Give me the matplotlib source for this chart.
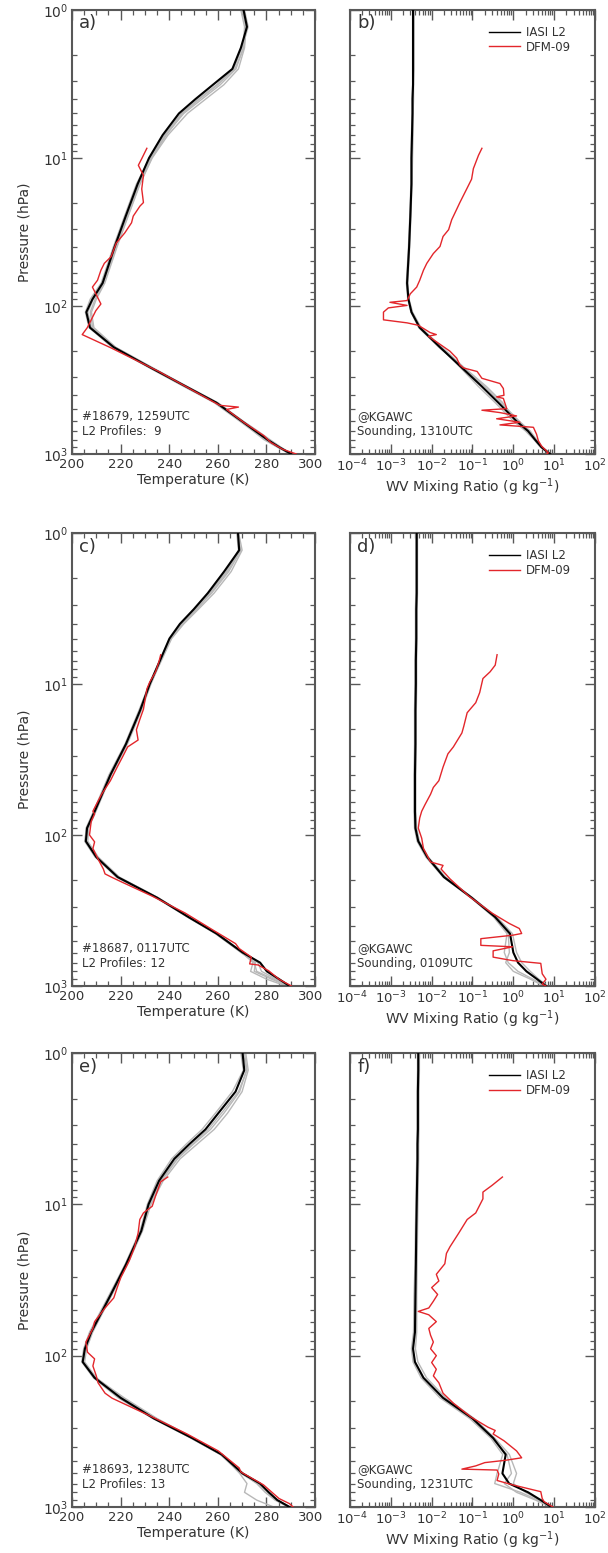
import numpy as np
import matplotlib
matplotlib.use("Agg")
import matplotlib.pyplot as plt
import matplotlib.transforms as mtransforms
from matplotlib.ticker import MultipleLocator, LogLocator, NullFormatter

plt.rcParams['font.family'] = ['DejaVu Sans']

# pressure grid of the IASI L2 retrievals (hPa)
p_l2 = [1, 1.3, 1.8, 2.5, 3.2, 4, 5, 7, 10, 15, 25, 40, 70, 90, 110, 140,
        190, 260, 350, 450, 600, 700, 800, 900, 1000]

# ---- temperature (K) ----
t_mean_a = [270.6, 272.0, 269.5, 266.0, 258.0, 250.8, 244.0, 237.3, 231.7, 227.0, 222.0, 217.5, 212.6,
            208.4, 205.9, 207.4, 217.2, 232.2, 246.9, 259.4, 269.9, 275.5, 280.4, 285.3, 290.2]
t_gray_a = [
    [269.5, 271.0, 270.5, 267.5, 261.0, 253.5, 246.0, 238.5, 232.5, 227.5, 222.5, 218.0, 213.0,
     209.5, 207.5, 208.5, 217.5, 232.0, 246.5, 259.0, 269.5, 275.0, 280.0, 285.0, 289.5],
    [270.0, 271.5, 271.0, 268.5, 262.5, 255.0, 247.5, 239.5, 233.0, 228.0, 223.0, 218.5, 213.5,
     210.0, 208.0, 209.0, 218.0, 233.0, 247.5, 260.0, 270.5, 276.5, 281.5, 286.0, 290.5],
    [271.0, 272.5, 270.0, 266.5, 259.5, 252.0, 245.0, 238.0, 232.0, 226.5, 221.5, 217.0, 212.0,
     207.5, 205.5, 207.0, 216.5, 231.5, 246.0, 258.5, 269.0, 274.5, 279.0, 284.5, 289.8],
    [270.2, 271.8, 270.8, 267.0, 260.0, 252.5, 245.5, 238.8, 232.8, 227.8, 222.8, 218.2, 212.8,
     208.8, 206.5, 208.0, 217.8, 232.6, 247.2, 259.8, 270.2, 276.0, 281.0, 285.8, 290.0],
]
t_mean_c = [268.3, 268.8, 262.6, 255.9, 250.1, 244.4, 240.1, 236.2, 232.0, 228.0, 222.2, 215.8, 209.3,
            206.2, 205.7, 210.0, 218.8, 235.0, 248.0, 259.5, 270.2, 277.4, 280.2, 285.2, 289.5]
t_gray_c = [
    [268.0, 269.5, 264.5, 257.5, 251.0, 245.0, 240.5, 236.5, 232.5, 228.5, 222.8, 216.2, 209.8,
     206.8, 206.5, 210.8, 219.5, 235.5, 248.5, 260.0, 270.0, 274.5, 273.5, 280.0, 288.0],
    [268.6, 270.0, 265.5, 258.5, 252.0, 246.0, 241.0, 236.8, 232.3, 227.8, 222.0, 215.5, 209.0,
     206.0, 205.2, 209.5, 218.5, 234.5, 247.5, 259.0, 269.5, 275.5, 275.0, 282.0, 289.0],
    [267.8, 268.5, 263.5, 256.5, 250.5, 244.8, 240.3, 236.0, 231.8, 227.5, 221.8, 215.2, 208.8,
     205.8, 205.5, 209.8, 218.2, 234.8, 248.2, 259.8, 270.5, 276.5, 278.0, 284.0, 289.2],
    [268.4, 269.0, 264.0, 257.0, 251.5, 245.5, 240.8, 236.4, 232.2, 228.2, 222.4, 216.0, 209.5,
     206.5, 206.0, 210.2, 219.0, 235.2, 248.0, 259.2, 269.8, 275.0, 276.0, 283.0, 288.5],
]
t_mean_e = [270.2, 270.9, 267.3, 260.2, 254.9, 248.3, 242.1, 235.8, 231.5, 228.5, 222.2, 215.8, 207.9,
            205.3, 204.4, 209.3, 220.0, 233.7, 249.4, 261.6, 270.2, 277.4, 281.0, 284.5, 289.5]
t_gray_e = [
    [271.5, 272.5, 270.0, 264.0, 258.5, 251.5, 244.5, 237.5, 232.5, 229.0, 222.8, 216.3, 208.5,
     206.0, 205.2, 210.0, 220.5, 234.0, 249.0, 261.0, 269.5, 276.5, 280.5, 284.0, 289.0],
    [270.5, 271.8, 269.0, 262.5, 257.0, 250.0, 243.5, 236.8, 232.0, 228.2, 222.0, 215.5, 207.5,
     205.0, 204.5, 209.8, 221.5, 235.0, 250.0, 261.5, 269.0, 272.0, 271.0, 276.0, 283.0],
    [269.5, 270.5, 266.0, 259.0, 253.5, 247.0, 241.0, 235.0, 231.0, 228.0, 221.8, 215.2, 207.2,
     204.8, 204.0, 208.8, 219.0, 233.2, 248.8, 261.2, 270.5, 277.0, 280.8, 284.5, 289.8],
    [271.0, 272.0, 268.5, 261.5, 256.0, 249.5, 243.0, 236.5, 231.8, 228.8, 222.5, 216.0, 208.0,
     205.5, 204.8, 209.5, 220.8, 234.5, 249.8, 261.8, 270.0, 276.0, 279.5, 283.5, 289.0],
]

# ---- water vapour mixing ratio (g/kg) ----
q_mean_b = [0.0035, 0.0035, 0.0035, 0.0035, 0.0035, 0.0034, 0.0034, 0.0033, 0.0032, 0.0032, 0.0030, 0.0028,
            0.0025, 0.0027, 0.0032, 0.0051, 0.016, 0.054, 0.17, 0.43, 1.2, 2.3, 3.4, 4.9, 7.9]
q_gray_b = [
    [0.0037, 0.0037, 0.0037, 0.0037, 0.0036, 0.0036, 0.0035, 0.0035, 0.0034, 0.0033, 0.0031, 0.0029,
     0.0026, 0.0028, 0.0034, 0.0055, 0.017, 0.050, 0.14, 0.36, 1.0, 2.0, 3.2, 4.6, 7.6],
    [0.0034, 0.0034, 0.0034, 0.0034, 0.0034, 0.0033, 0.0033, 0.0032, 0.0031, 0.0031, 0.0029, 0.0027,
     0.0024, 0.0026, 0.0031, 0.0048, 0.015, 0.058, 0.20, 0.50, 1.4, 2.6, 3.7, 5.2, 8.2],
    [0.0036, 0.0036, 0.0036, 0.0036, 0.0035, 0.0035, 0.0034, 0.0034, 0.0033, 0.0032, 0.0030, 0.0028,
     0.0025, 0.0027, 0.0033, 0.0053, 0.018, 0.062, 0.22, 0.55, 1.1, 2.2, 3.6, 5.0, 8.0],
]
q_mean_d = [0.0043, 0.0043, 0.0043, 0.0043, 0.0042, 0.0042, 0.0042, 0.0041, 0.0041, 0.0040, 0.0040, 0.0039,
            0.0039, 0.0040, 0.0047, 0.0078, 0.020, 0.095, 0.36, 0.83, 1.0, 1.3, 2.1, 3.8, 6.3]
q_gray_d = [
    [0.0041, 0.0041, 0.0041, 0.0041, 0.0040, 0.0040, 0.0040, 0.0039, 0.0039, 0.0038, 0.0038, 0.0037,
     0.0037, 0.0038, 0.0044, 0.0072, 0.019, 0.090, 0.33, 0.70, 0.60, 0.75, 1.3, 3.0, 6.0],
    [0.0045, 0.0045, 0.0045, 0.0045, 0.0044, 0.0044, 0.0044, 0.0043, 0.0043, 0.0042, 0.0042, 0.0041,
     0.0041, 0.0043, 0.0050, 0.0083, 0.022, 0.10, 0.40, 0.95, 1.2, 1.6, 2.6, 4.2, 6.8],
    [0.0042, 0.0042, 0.0042, 0.0042, 0.0041, 0.0041, 0.0041, 0.0040, 0.0040, 0.0039, 0.0039, 0.0038,
     0.0038, 0.0040, 0.0046, 0.0075, 0.021, 0.098, 0.35, 0.75, 0.80, 0.65, 1.0, 2.6, 5.5],
]
q_mean_f = [0.0047, 0.0047, 0.0046, 0.0046, 0.0046, 0.0045, 0.0045, 0.0044, 0.0043, 0.0042, 0.0041, 0.0040,
            0.0039, 0.0035, 0.0039, 0.0063, 0.019, 0.10, 0.32, 0.65, 0.54, 0.79, 2.3, 4.7, 8.5]
q_gray_f = [
    [0.0050, 0.0050, 0.0049, 0.0049, 0.0049, 0.0048, 0.0048, 0.0047, 0.0046, 0.0045, 0.0044, 0.0043,
     0.0043, 0.0040, 0.0046, 0.0075, 0.022, 0.11, 0.35, 0.80, 1.2, 1.0, 2.0, 4.5, 8.0],
    [0.0045, 0.0045, 0.0044, 0.0044, 0.0044, 0.0043, 0.0043, 0.0042, 0.0041, 0.0040, 0.0039, 0.0037,
     0.0036, 0.0032, 0.0035, 0.0055, 0.016, 0.085, 0.28, 0.55, 0.40, 0.35, 1.5, 4.0, 8.8],
    [0.0048, 0.0048, 0.0047, 0.0047, 0.0047, 0.0046, 0.0046, 0.0045, 0.0044, 0.0043, 0.0041, 0.0039,
     0.0038, 0.0034, 0.0037, 0.0060, 0.018, 0.095, 0.30, 0.70, 0.90, 0.60, 1.2, 3.5, 8.0],
]

# ---- DFM-09 radiosonde soundings ----
p_snd_a = [8.6, 10.1, 11.2, 13.1, 16.2, 20.0, 21.1, 24.7, 27.4, 32.1, 37.6, 46.4, 51.5, 57.3, 67.0, 74.5,
           82.7, 96.9, 107.6, 126, 140, 156, 192, 277, 361, 469, 482, 500, 610, 753, 836, 929, 1000]
t_snd_a = [230.8, 228.7, 227.3, 229.4, 228.7, 229.4, 228.0, 225.2, 224.5, 221.7, 218.2, 216.1, 213.3, 211.9,
           210.5, 208.4, 209.8, 211.9, 209.8, 207.7, 206.3, 204.2, 216.1, 235.7, 248.3, 260.8, 268.5, 263.6,
           270.6, 279.0, 281.8, 286.7, 292.3]
p_snd_b = [8.6, 9.6, 11.8, 13.9, 16.2, 20.0, 22.2, 26.1, 30.5, 33.9, 39.6, 44.2, 51.5, 57.3, 67.0, 74.5,
           82.7, 91.9, 94.4, 99.1, 103, 110, 124, 130, 135, 151, 156, 160, 202, 225, 250, 262, 277, 308,
           334, 361, 401, 411, 421, 494, 506, 525, 553, 578, 610, 636, 660, 735, 814, 884, 981, 1000]
q_snd_b = [0.17, 0.14, 0.105, 0.095, 0.072, 0.049, 0.041, 0.031, 0.026, 0.019, 0.016, 0.011, 0.0076, 0.0063,
           0.0051, 0.0043, 0.0030, 0.0025, 0.00095, 0.0025, 0.00087, 0.00066, 0.00066, 0.0025, 0.0047, 0.0091,
           0.013, 0.0083, 0.028, 0.041, 0.049, 0.060, 0.13, 0.17, 0.47, 0.57, 0.59, 0.39, 0.57, 0.69, 0.17,
           0.47, 1.2, 0.39, 1.45, 0.47, 3.1, 3.7, 4.1, 4.9, 7.2, 6.6]
p_snd_c = [6.4, 7.1, 8.3, 9.7, 10.8, 12.6, 14.7, 17.2, 20.1, 23.5, 26.1, 30.4, 35.5, 43.7, 53.7, 62.8, 69.6,
           72.5, 81.3, 100, 111, 123, 144, 168, 181, 191, 206, 254, 329, 426, 524, 565, 644, 714, 726, 792,
           902, 1000]
t_snd_c = [236.5, 235.8, 234.4, 232.0, 230.8, 230.1, 229.4, 227.9, 226.5, 227.2, 222.9, 220.8, 218.6, 215.8,
           212.2, 210.0, 208.6, 209.3, 207.9, 207.2, 209.3, 208.6, 210.7, 212.9, 213.6, 216.5, 220.8, 233.0,
           246.6, 258.0, 267.3, 268.8, 273.8, 273.1, 276.6, 280.9, 285.2, 290.3]
p_snd_d = [6.4, 7.5, 8.3, 9.2, 11.4, 13.3, 15.5, 19.1, 21.1, 26.1, 29.0, 35.5, 43.7, 48.4, 53.7, 62.8, 69.6,
           77.1, 90.0, 105, 123, 151, 159, 168, 195, 254, 329, 385, 416, 449, 461, 486, 538, 550, 585, 644,
           679, 708, 830, 902, 972, 1000]
q_snd_d = [0.40, 0.36, 0.27, 0.18, 0.15, 0.12, 0.074, 0.061, 0.055, 0.034, 0.025, 0.019, 0.015, 0.011,
           0.0094, 0.0069, 0.0057, 0.0051, 0.0047, 0.0057, 0.0063, 0.0094, 0.019, 0.017, 0.028, 0.081, 0.30,
           0.79, 1.4, 1.6, 0.96, 0.16, 0.16, 0.96, 0.32, 0.32, 0.96, 4.7, 5.1, 6.3, 5.1, 6.3]
p_snd_e = [6.6, 7.1, 8.8, 10.3, 11.4, 12.6, 15.5, 19.1, 23.5, 26.1, 30.4, 35.5, 41.5, 48.4, 59.6, 66.1, 81.3,
           95.0, 105, 117, 136, 151, 177, 191, 254, 329, 426, 552, 587, 714, 879, 950, 1000]
t_snd_e = [239.4, 236.5, 234.4, 233.0, 229.4, 227.9, 227.2, 225.8, 223.6, 222.2, 220.1, 218.6, 217.2, 213.6,
           209.3, 208.6, 205.7, 206.4, 209.3, 208.6, 210.0, 210.7, 213.6, 216.5, 233.0, 247.3, 260.2, 268.8,
           269.5, 278.8, 285.2, 289.5, 291.0]
p_snd_f = [6.6, 7.5, 8.3, 9.2, 11.4, 12.6, 15.5, 19.1, 21.1, 24.7, 29.0, 32.1, 35.5, 39.4, 43.7, 48.4, 51.0,
           53.7, 59.6, 66.1, 73.3, 81.3, 90, 100, 111, 123, 136, 151, 177, 206, 254, 297, 312, 329, 365, 426,
           473, 491, 509, 535, 562, 570, 605, 668, 714, 792, 879, 923, 1000]
q_snd_f = [0.54, 0.30, 0.18, 0.18, 0.12, 0.074, 0.046, 0.028, 0.023, 0.021, 0.013, 0.015, 0.010, 0.014, 0.011,
           0.0085, 0.0047, 0.0085, 0.013, 0.0085, 0.0094, 0.011, 0.0094, 0.013, 0.010, 0.013, 0.011, 0.015,
           0.019, 0.034, 0.091, 0.24, 0.36, 0.32, 0.59, 1.2, 1.6, 0.65, 0.2, 0.12, 0.055, 0.40, 0.44, 0.40,
           0.96, 4.7, 5.1, 5.7, 9.3]

orbit_text = ["#18679, 1259UTC\nL2 Profiles:  9",
              "#18687, 0117UTC\nL2 Profiles: 12",
              "#18693, 1238UTC\nL2 Profiles: 13"]
sonde_text = ["@KGAWC\nSounding, 1310UTC",
              "@KGAWC\nSounding, 0109UTC",
              "@KGAWC\nSounding, 1231UTC"]

rows = [
    (t_mean_a, t_gray_a, p_snd_a, t_snd_a, q_mean_b, q_gray_b, p_snd_b, q_snd_b),
    (t_mean_c, t_gray_c, p_snd_c, t_snd_c, q_mean_d, q_gray_d, p_snd_d, q_snd_d),
    (t_mean_e, t_gray_e, p_snd_e, t_snd_e, q_mean_f, q_gray_f, p_snd_f, q_snd_f),
]
letters = [("a)", "b)"), ("c)", "d)"), ("e)", "f)")]

# axes boxes in pixels: (top, bottom)
row_px = [(10, 454), (533, 986), (1053, 1507)]
W, H = 608, 1553

RED = "#e3262b"
GRAY = "#b8b8b8"
FRAME = "#585858"
TXT = "#333333"

fig = plt.figure(figsize=(W / 100, H / 100), dpi=100)


def style_axis(ax):
    for s in ax.spines.values():
        s.set_color(FRAME)
        s.set_linewidth(1.5)
    ax.tick_params(which="both", direction="in", top=True, right=True, color=FRAME,
                   labelsize=10, labelcolor=TXT, pad=3)
    ax.tick_params(axis="x", labelsize=9.5)
    ax.tick_params(which="major", length=7, width=1)
    ax.tick_params(which="minor", length=3.5, width=0.9)
    ax.set_yscale("log")
    ax.set_ylim(1000, 1)
    ax.yaxis.set_major_locator(LogLocator(base=10, numticks=10))
    ax.yaxis.set_minor_locator(LogLocator(base=10, subs=np.arange(2, 10), numticks=20))
    ax.yaxis.set_minor_formatter(NullFormatter())


def nudge(label, dx_px):
    label.set_transform(label.get_transform() +
                        mtransforms.ScaledTranslation(dx_px / 100, 0, fig.dpi_scale_trans))


for r, (tm, tg, ps, ts, qm, qg, pq, qs) in enumerate(rows):
    top, bot = row_px[r]
    yb = 1 - bot / H
    hh = (bot - top) / H
    ax1 = fig.add_axes([72 / W, yb, 243 / W, hh])
    ax2 = fig.add_axes([350 / W, yb, 245 / W, hh])

    # temperature panel
    for g in tg:
        ax1.plot(g, p_l2, color=GRAY, lw=1.0, zorder=2)
    ax1.plot(tm, p_l2, color="black", lw=1.5, zorder=3)
    ax1.plot(ts, ps, color=RED, lw=1.0, zorder=4)
    style_axis(ax1)
    ax1.set_xlim(200, 300)
    ax1.xaxis.set_major_locator(MultipleLocator(20))
    ax1.xaxis.set_minor_locator(MultipleLocator(5))
    ax1.set_xlabel("Temperature (K)", fontsize=10, color=TXT, labelpad=1)
    ax1.set_ylabel("Pressure (hPa)", fontsize=10, color=TXT, labelpad=8)
    ax1.text(0.04, 0.035, orbit_text[r], transform=ax1.transAxes, fontsize=8.5,
             color=TXT, va="bottom", ha="left", linespacing=1.25)
    ax1.text(0.03, 0.99, letters[r][0], transform=ax1.transAxes, fontsize=13,
             color=TXT, va="top", ha="left")

    # water vapour panel
    for g in qg:
        ax2.plot(g, p_l2, color=GRAY, lw=1.0, zorder=2)
    l1, = ax2.plot(qm, p_l2, color="black", lw=1.5, zorder=3, label="IASI L2")
    l2, = ax2.plot(qs, pq, color=RED, lw=1.0, zorder=4, label="DFM-09")
    style_axis(ax2)
    ax2.set_xscale("log")
    ax2.set_xlim(1e-4, 1e2)
    ax2.xaxis.set_major_locator(LogLocator(base=10, numticks=10))
    ax2.xaxis.set_minor_locator(LogLocator(base=10, subs=np.arange(2, 10), numticks=20))
    ax2.xaxis.set_minor_formatter(NullFormatter())
    # no pressure labels on the right-hand panels
    ax2.yaxis.set_major_formatter(NullFormatter())
    ax2.tick_params(labelleft=False)
    ax2.set_xlabel("WV Mixing Ratio (g kg$^{-1}$)", fontsize=10, color=TXT, labelpad=1)
    ax2.text(0.03, 0.035, sonde_text[r], transform=ax2.transAxes, fontsize=8.5,
             color=TXT, va="bottom", ha="left", linespacing=1.25)
    ax2.text(0.03, 0.99, letters[r][1], transform=ax2.transAxes, fontsize=13,
             color=TXT, va="top", ha="left")
    leg = ax2.legend(handles=[l1, l2], loc="upper right", bbox_to_anchor=(0.92, 0.975),
                     frameon=False, fontsize=8.5, handlelength=2.6, handletextpad=0.5,
                     borderaxespad=0.0, labelspacing=0.15)
    for t in leg.get_texts():
        t.set_color(TXT)
    for h in leg.get_lines():
        h.set_linewidth(1.0)

    # keep "300" and "10^-4" apart where the two panels meet
    fig.canvas.draw()
    for tick in ax1.xaxis.get_major_ticks():
        if abs(tick.get_loc() - 300) < 1e-6:
            nudge(tick.label1, -4)
    for tick in ax2.xaxis.get_major_ticks():
        if abs(tick.get_loc() - 1e-4) < 1e-9:
            nudge(tick.label1, 2)

fig.savefig("out.png", dpi=100)
